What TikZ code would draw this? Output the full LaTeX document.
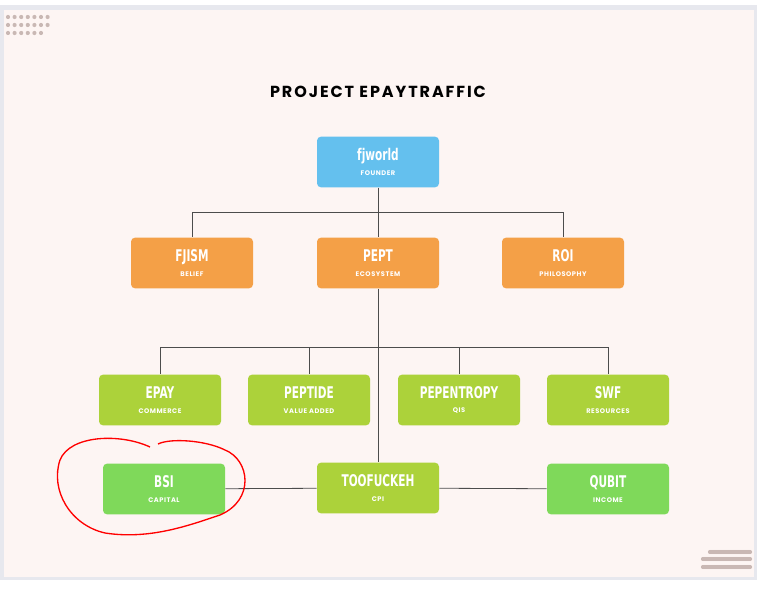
\documentclass[tikz,border=0pt]{standalone}
\usepackage{fontspec}
\setmainfont{Poppins}
\newfontfamily\titlefont[LetterSpace=12]{Poppins}
\newfontfamily\subfont[LetterSpace=8]{Poppins}
\newfontfamily\namefont{DejaVu Sans Condensed}
\definecolor{panel}{HTML}{FDF5F3}
\definecolor{frame}{HTML}{E7E8EE}
\definecolor{founderblue}{HTML}{64C0EE}
\definecolor{orangebox}{HTML}{F4A047}
\definecolor{limebox}{HTML}{ACD23A}
\definecolor{greenbox}{HTML}{7FD95A}
\definecolor{dotgrey}{HTML}{C9B8B4}
\newcommand{\boxtext}[2]{{\namefont\bfseries\fontsize{11}{11}\selectfont\scalebox{0.8}[1.1]{#1}}\\[-1pt]{\subfont\bfseries\fontsize{5}{6}\selectfont #2}}
\begin{document}
\begin{tikzpicture}[x=0.75pt, y=-0.75pt,
                    orgbox/.style={rectangle, rounded corners=3pt, minimum width=91.5pt,
                                   minimum height=38pt, text=white, align=center, inner sep=1pt},
                    link/.style={draw=black!70, line width=0.6pt}]
  % background
  \fill[white] (0,0) rectangle (761,591);
  \fill[frame] (0,5) rectangle (757,580);
  \fill[panel] (4,10) rectangle (754,577);
  \foreach \row/\n in {17/7,25/7,33/6}
    \foreach \i in {1,...,\n}
      \fill[dotgrey] ({8+6.6*(\i-1)},\row) circle (2.1);
  \foreach \row/\s in {552/710,559/703,567/703}
    \foreach \x in {\s,...,750}
      \fill[dotgrey] (\x,\row) circle (2.1);
  \node (title) at (378,92) {\titlefont\bfseries\fontsize{12}{12}\selectfont PROJECT EPAYTRAFFIC};
  % nodes
  \node[orgbox, fill=founderblue] (fjworld) at (378,162) {\boxtext{fjworld}{FOUNDER}};
  \node[orgbox, fill=orangebox] (fjism) at (192,263) {\boxtext{FJISM}{BELIEF}};
  \node[orgbox, fill=orangebox] (pept) at (378,263) {\boxtext{PEPT}{ECOSYSTEM}};
  \node[orgbox, fill=orangebox] (roi) at (563,263) {\boxtext{ROI}{PHILOSOPHY}};
  \node[orgbox, fill=limebox] (epay) at (160,400) {\boxtext{EPAY}{COMMERCE}};
  \node[orgbox, fill=limebox] (peptide) at (309,400) {\boxtext{PEPTIDE}{VALUE ADDED}};
  \node[orgbox, fill=limebox] (pepentropy) at (459,400) {\boxtext{PEPENTROPY}{QIS}};
  \node[orgbox, fill=limebox] (swf) at (608,400) {\boxtext{SWF}{RESOURCES}};
  \node[orgbox, fill=greenbox] (bsi) at (164,489) {\boxtext{BSI}{CAPITAL}};
  \node[orgbox, fill=limebox] (toofuckeh) at (378,488) {\boxtext{TOOFUCKEH}{CPI}};
  \node[orgbox, fill=greenbox] (qubit) at (608,489) {\boxtext{QUBIT}{INCOME}};
  % connectors
  \coordinate (bus1) at (378,212);
  \coordinate (bus2) at (378,347);
  \draw[link] (fjworld) -- (bus1);
  \foreach \t in {fjism,pept,roi}
    \draw[link] (bus1) -| (\t.north);
  \draw[link] (pept) -- (toofuckeh);
  \foreach \t in {epay,peptide,pepentropy,swf}
    \draw[link] (bus2) -| (\t.north);
  \draw[link] (bsi) -- (toofuckeh);
  \draw[link] (toofuckeh) -- (qubit);
  % red mark
  \draw[red, line width=1pt] (150,447) .. controls (120,433) and (70,435) .. (60,460)
    .. controls (50,490) and (70,525) .. (105,533)
    .. controls (150,540) and (190,525) .. (220,515)
    .. controls (255,500) and (250,460) .. (225,450)
    .. controls (205,440) and (170,438) .. (158,444);
\end{tikzpicture}
\end{document}
